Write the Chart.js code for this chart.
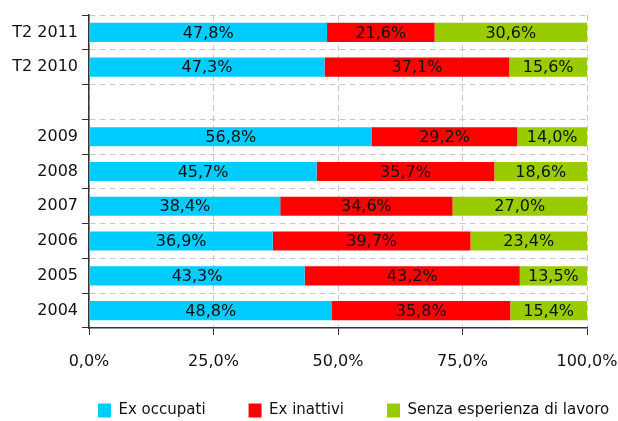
<!DOCTYPE html>
<html>
<head>
<meta charset="utf-8">
<script src="https://cdn.jsdelivr.net/npm/chart.js@4/dist/chart.umd.min.js"></script>
<style>
  body { margin: 0; background: #fff; overflow: hidden; }
</style>
</head>
<body>
<canvas id="myChart" width="618" height="421"></canvas>
<script>
// Categories (top to bottom), empty label makes the gap
var categories = ['T2 2011', 'T2 2010', '', '2009', '2008', '2007', '2006', '2005', '2004'];

// Series values (%)
var exOccupati = [47.8, 47.3, null, 56.8, 45.7, 38.4, 36.9, 43.3, 48.8];
var exInattivi = [21.6, 37.1, null, 29.2, 35.7, 34.6, 39.7, 43.2, 35.8];
var senzaEsperienza = [30.6, 15.6, null, 14.0, 18.6, 27.0, 23.4, 13.5, 15.4];

// X axis ticks
var xTicks = [0, 25, 50, 75, 100];

var fontFamily = '"DejaVu Sans", Verdana, sans-serif';

function fmt(v) {
    return v.toFixed(1).replace('.', ',') + '%';
}

// Write the value in the middle of each bar
var barLabels = {
    id: 'barLabels',
    afterDatasetsDraw: function(chart) {
        var ctx = chart.ctx;
        ctx.save();
        ctx.font = '16px ' + fontFamily;
        ctx.fillStyle = '#111';
        ctx.textAlign = 'center';
        ctx.textBaseline = 'middle';
        chart.data.datasets.forEach(function(ds, i) {
            chart.getDatasetMeta(i).data.forEach(function(bar, j) {
                var v = ds.data[j];
                if (v === null) return;
                var c = bar.getCenterPoint();
                ctx.fillText(fmt(v), c.x, c.y + 1);
            });
        });
        ctx.restore();
    }
};

// Move the legend a bit (it sits off-centre in the original)
var legendShift = {
    id: 'legendShift',
    afterLayout: function(chart) {
        var lg = chart.legend;
        lg.left += 55; lg.right += 55;
        lg.top -= 13; lg.bottom -= 13;
    }
};

var ctx = document.getElementById('myChart').getContext('2d');
var myChart = new Chart(ctx, {
    type: 'bar',
    data: {
        labels: categories,
        datasets: [
            { label: 'Ex occupati', data: exOccupati, backgroundColor: '#00CCFF' },
            { label: 'Ex inattivi', data: exInattivi, backgroundColor: '#FF0000' },
            { label: 'Senza esperienza di lavoro', data: senzaEsperienza, backgroundColor: '#99CC00' }
        ]
    },
    options: {
        indexAxis: 'y',
        responsive: false,
        animation: false,
        barPercentage: 0.55,
        categoryPercentage: 1,
        layout: { padding: { top: 15, right: 0, left: 0, bottom: -20 } },
        scales: {
            x: {
                stacked: true,
                min: 0,
                max: 100,
                afterBuildTicks: function(scale) {
                    scale.ticks = xTicks.map(function(v) { return { value: v }; });
                },
                afterFit: function(scale) {
                    scale.height = 45;
                    scale.paddingLeft = 0;
                    scale.paddingRight = 31;
                },
                ticks: {
                    callback: function(v) { return fmt(v); },
                    font: { family: fontFamily, size: 16 },
                    color: '#111',
                    padding: 17,
                    maxRotation: 0
                },
                grid: { color: '#c8c8c8', tickColor: '#333', tickLength: 7 },
                border: { color: '#333', width: 1.5, dash: [6, 4] }
            },
            y: {
                stacked: true,
                afterFit: function(scale) { scale.width = 89; },
                ticks: {
                    font: { family: fontFamily, size: 16 },
                    color: '#111',
                    padding: 4
                },
                grid: { color: '#c8c8c8', tickColor: '#333', tickLength: 7 },
                border: { color: '#333', width: 1.5, dash: [6, 4] }
            }
        },
        plugins: {
            legend: {
                position: 'bottom',
                align: 'start',
                labels: {
                    boxWidth: 13,
                    boxHeight: 14,
                    padding: 43,
                    color: '#111',
                    font: { family: fontFamily, size: 15 }
                }
            },
            tooltip: { enabled: false }
        }
    },
    plugins: [barLabels, legendShift]
});
</script>
</body>
</html>
